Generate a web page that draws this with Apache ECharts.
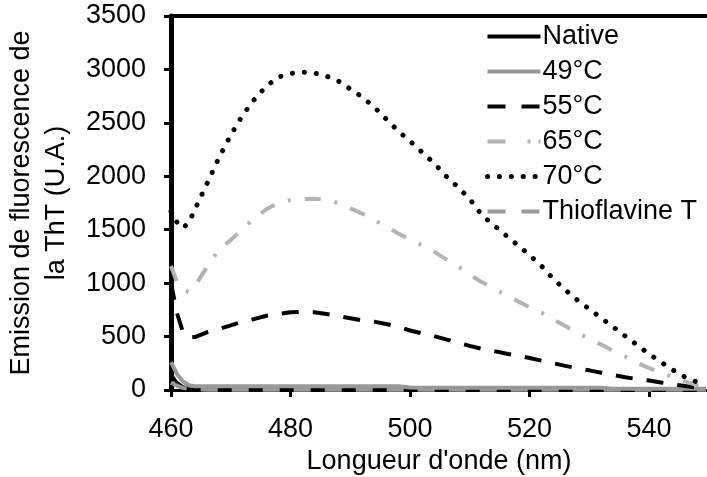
<!DOCTYPE html>
<html>
<head>
<meta charset="utf-8">
<script src="https://cdn.jsdelivr.net/npm/echarts@6/dist/echarts.min.js"></script>
<style>html,body{margin:0;padding:0;background:#fff}#c{width:707px;height:477px}</style>
</head>
<body>
<div id="c"></div>
<script>
const wavelengths = [460,461,462,463,464,466,468,470,472,474,476,478,480,482,484,486,488,490,492,494,496,498,500,502,504,506,508,510,512,514,516,518,520,522,524,526,528,530,532,534,536,538,540,542,544,546,548,549.5];
const seriesNames = ['Native','49°C','55°C','65°C','70°C','Thioflavine T'];
const native = [150,70,30,15,10,8,8,8,8,8,8,8,8,8,8,8,8,8,8,8,8,8,7,7,7,7,7,7,7,7,7,7,7,7,6,6,6,6,6,6,6,6,6,6,6,6,6,6];
const t49 = [260,150,80,45,35,35,35,35,35,35,35,35,35,35,35,35,35,35,35,35,35,35,24,22,22,22,22,22,22,22,22,22,22,22,22,22,22,22,22,12,12,12,12,12,12,12,12,12];
const t55 = [1000,720,540,490,495,540,570,605,640,665,695,712,728,732,728,712,690,672,652,640,618,592,557,530,505,474,443,413,386,365,342,320,300,275,250,226,203,184,162,140,120,102,88,70,53,38,22,12];
const t65 = [1160,1010,936,917,973,1151,1310,1404,1507,1610,1694,1750,1778,1787,1790,1780,1750,1700,1650,1590,1530,1465,1410,1355,1295,1225,1160,1080,1010,952,890,832,775,725,660,598,536,478,425,365,314,255,205,160,120,80,45,25];
const t70 = [1670,1570,1515,1570,1690,1928,2171,2386,2573,2723,2845,2929,2962,2976,2966,2938,2892,2817,2742,2648,2536,2424,2330,2227,2124,2003,1900,1787,1638,1544,1450,1357,1263,1160,1039,936,842,758,674,590,505,421,337,262,187,122,75,37];
const thioflavine = [70,40,20,10,5,3,3,3,3,3,3,3,3,3,3,3,3,3,3,3,3,3,3,3,3,3,3,3,3,3,3,3,3,3,3,3,3,3,3,3,3,3,3,3,3,3,3,3];
const xTicks = [460,480,500,520,540];
const yTicks = [0,500,1000,1500,2000,2500,3000,3500];

const pair = vals => wavelengths.map((w,i)=>[w, vals[i]]);
const FONT = 'Liberation Sans, Arial, sans-serif';
const styles = [
  {color:'#000000', width:3, type:'solid'},
  {color:'#999999', width:4, type:'solid'},
  {color:'#000000', width:4, type:[17,14]},
  {color:'#b3b3b3', width:4, type:[16,14,3,14]},
  {color:'#000000', width:5, type:[0.1,11.9], cap:'round'},
  {color:'#999999', width:4, type:[17,14]}
];
const legendStyles = [
  {color:'#000000', width:4, type:'solid'},
  {color:'#999999', width:4, type:'solid'},
  {color:'#000000', width:4, type:[18,16]},
  {color:'#b3b3b3', width:4, type:[18,22,3,8]},
  {color:'#000000', width:5, type:[0.1,11.8], cap:'round'},
  {color:'#999999', width:4, type:[18,16]}
];
const datas = [native,t49,t55,t65,t70,thioflavine];

const chart = echarts.init(document.getElementById('c'), null, {renderer:'canvas'});
chart.setOption({
  animation:false,
  backgroundColor:'#fff',
  textStyle:{fontFamily:FONT},
  grid:{left:171,right:0,top:16,bottom:87,containLabel:false,outerBoundsMode:'none'},
  legend:{
    orient:'vertical', left:485, top:23, padding:0,
    itemWidth:53, itemHeight:20, itemGap:8,
    itemStyle:{opacity:0},
    textStyle:{fontSize:27, color:'#000', fontFamily:FONT, padding:[0,0,0,-3]},
    data:seriesNames.map((n,i)=>({name:n, itemStyle:{opacity:0},
      lineStyle:{color:legendStyles[i].color, width:legendStyles[i].width, type:legendStyles[i].type, cap:legendStyles[i].cap||'butt', opacity:1}}))
  },
  xAxis:[{
    type:'value', min:460, max:549.7, interval:20, position:'bottom',
    name:"Longueur d'onde (nm)", nameLocation:'middle', nameGap:51,
    nameTextStyle:{fontSize:27, color:'#000', fontFamily:FONT},
    axisLine:{lineStyle:{color:'#000', width:3}},
    axisTick:{inside:false, length:7, lineStyle:{color:'#000', width:3}, customValues:xTicks},
    axisLabel:{fontSize:27, color:'#000', margin:26, fontFamily:FONT, customValues:xTicks},
    splitLine:{show:false}
  },{
    type:'value', min:460, max:549.7, position:'top',
    axisLine:{show:true, lineStyle:{color:'#000', width:4}},
    axisTick:{show:false}, axisLabel:{show:false}, splitLine:{show:false}
  }],
  yAxis:{
    type:'value', min:0, max:3500, interval:500,
    name:'Emission de fluorescence de\nla ThT (U.A.)', nameLocation:'middle', nameGap:97,
    nameTextStyle:{fontSize:27, color:'#000', fontFamily:FONT, lineHeight:35},
    axisLine:{show:true, lineStyle:{color:'#000', width:5}},
    axisTick:{show:true, inside:false, length:7, lineStyle:{color:'#000', width:3}, customValues:yTicks},
    axisLabel:{fontSize:27, color:'#000', margin:25, fontFamily:FONT, customValues:yTicks, formatter:v=>String(v)},
    splitLine:{show:false}
  },
  series: seriesNames.map((n,i)=>({
    name:n, type:'line', data:pair(datas[i]), symbol:'none', showSymbol:false,
    smooth:false, clip:true,
    itemStyle:{color:styles[i].color},
    lineStyle:{color:styles[i].color, width:styles[i].width, type:styles[i].type, cap:styles[i].cap||'butt'}
  }))
});
</script>
</body>
</html>
